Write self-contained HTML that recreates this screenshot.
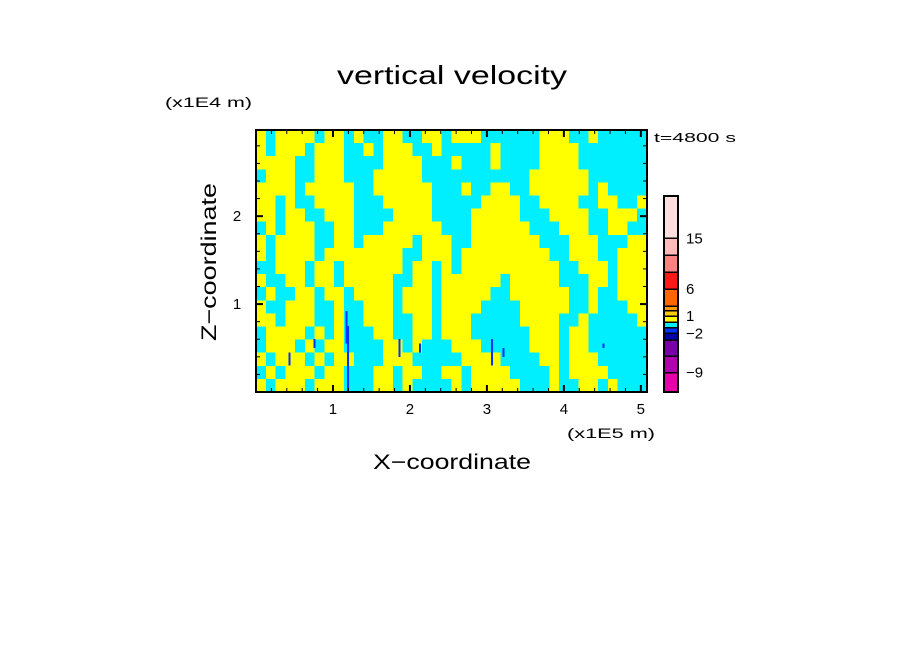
<!DOCTYPE html>
<html><head><meta charset="utf-8"><style>
html,body{margin:0;padding:0;background:#fff;}
svg{display:block;font-family:"Liberation Sans",sans-serif;}
</style></head><body>
<svg id="chart" width="904" height="654" viewBox="0 0 904 654" xmlns="http://www.w3.org/2000/svg">
<rect width="904" height="654" fill="#fff"/>
<g id="field" shape-rendering="crispEdges"></g>
<g id="streaks" shape-rendering="crispEdges"></g>
<rect x="256" y="130" width="391" height="262" fill="none" stroke="#000" stroke-width="2"/>
<g id="ticks" stroke="#000"></g>
<g id="labels" font-size="15" fill="#000"></g>
<g id="cbar" shape-rendering="crispEdges"></g>
<text x="452" y="84" font-size="26" text-anchor="middle" textLength="230" lengthAdjust="spacingAndGlyphs">vertical velocity</text>
<text x="165" y="107" font-size="14" textLength="87" lengthAdjust="spacingAndGlyphs">(x1E4 m)</text>
<text x="567" y="438" font-size="14" textLength="88" lengthAdjust="spacingAndGlyphs">(x1E5 m)</text>
<text x="654" y="142" font-size="13" textLength="82" lengthAdjust="spacingAndGlyphs">t=4800 s</text>
<text x="452" y="469" font-size="21" text-anchor="middle" textLength="158" lengthAdjust="spacingAndGlyphs">X−coordinate</text>
<text transform="translate(216,262) rotate(-90)" font-size="21" text-anchor="middle" textLength="158" lengthAdjust="spacingAndGlyphs">Z−coordinate</text>
</svg>
<script>
const fieldRows = [
"YCYYYYCYYCYCCYYCCYYCYYYCCCCCCYYYCCYCCCCC",
"YCYYYCYYYCCYCYYYCCYCCCCCYCCCCYYYYCCCCCCC",
"YYYYCCYYYCCCCYYYYCCCYCCCYCCCCYYYYCCCCCCC",
"CYYYCCYYYCCCYYYYYCCCCCCCCCCCYYYYYYCCCCCC",
"YYYYCYYYYYCCYYYYYYCCCYCCYYCCYYYYYYCYCCCC",
"YYCYCCYYYYCCCYYYYYCCCCCYYYYCCYYYYCCYYCCY",
"YYCYYCCYYYCCCCYYYYCCCCYYYYYCCCYYYYCCYYYC",
"CYCYYYCCYYCCCYYYYYYCCCYYYYYYCCCYYYCCYYCC",
"YCYYYYCCYYCYYYYYCYYYCCYYYYYYYCCCYYYCCCYY",
"YCYYYYCYYYYYYYYCCYYYCYYYYYYYYYCCYYYCCYYY",
"CCYYYCYYCYYYYYYCYYCYCYYYYYYYYYYCCYYYCYYY",
"YCCYYCYYCYYYYYCCYYCYYYYYYCYYYYYCCCYYCYYY",
"CYCCYYCYYCYYYYCYYYCYYYYYCCYYYYYYCCYCCYYY",
"YCCYYYCCYCCYYYCYYYCYYYYCCCCYYYYYCCYCCCYY",
"YYCYYYCCYCCYYYCCYYCYYYCCCCCYYYYCCYCCCCCY",
"CYYYYCYCYCCCYYCCYYCYYYCCCCCCYYYCYYCCCCCC",
"CYYYCYCYYCCCCYYCYCCCYYYCCCCCYYYCYYCCCCCC",
"YCYYYCYCYYCCCYYYCCCCCYYYYCCCCYYCYYYCCCCC",
"CYCYYYCYYCCCYYCYYCCYYCYYYYCCCCYCYYYYCCCC",
"YCYYYCYYYCCCYYCYCCCCYCYYYYYCCCYCCYYCYCCC"
];
const streakX = [0.42, 1.16, 1.18, 0.75, 1.85, 2.12, 3.05, 3.2, 4.5];
const streakZTop = [0.45, 0.92, 0.75, 0.6, 0.6, 0.55, 0.6, 0.5, 0.55];
const streakZBot = [0.3, 0.55, 0.0, 0.5, 0.4, 0.45, 0.3, 0.4, 0.5];
const cbarLevels = ["-12","-9","-6","-3","-2","-1","0","1","2","3","6","9","12","15","20"];
const cbarColors = ["#e800a8","#b000b0","#7700aa","#0000aa","#0033ff","#00efff","#ffff00","#ffcc00","#ff9900","#ff6600","#ff1a1a","#ff8080","#ffbaba","#ffdede"];
const cbarTickLabels = ["15","6","1","−2","−9"];
const cbarTickLevels = ["15","6","1","-2","-9"];
const xTicks = [1,2,3,4,5];
const yTicks = [1,2];

const X0=256,X1=647,Y0=392,Y1=130, XMAX=5.08, ZMAX=2.98;
const sx=v=>X0+v*(X1-X0)/XMAX;
const sz=v=>Y0-v*(Y0-Y1)/ZMAX;
const NS="http://www.w3.org/2000/svg";
function mk(tag,attrs,parent){const e=document.createElementNS(NS,tag);for(const k in attrs)e.setAttribute(k,attrs[k]);parent.appendChild(e);return e;}

const field=document.getElementById('field');
const nr=fieldRows.length,nc=fieldRows[0].length;
const cw=(X1-X0)/nc,rh=(Y0-Y1)/nr;
fieldRows.forEach((row,r)=>{
  for(let c=0;c<nc;c++){
    const e=mk('rect',{x:X0+c*cw,y:Y1+r*rh,width:cw+0.5,height:rh+0.5,fill:row[c]==='Y'?'#ffff00':'#00efff'},field);
    
    
  }
});
const st=document.getElementById('streaks');
streakX.forEach((x,i)=>{
  const e=mk('rect',{x:sx(x),y:sz(streakZTop[i]),width:2,height:sz(streakZBot[i])-sz(streakZTop[i]),fill:'#0033ff'},st);
  
  
});

const tk=document.getElementById('ticks'), lb=document.getElementById('labels');
for(let v=0.2;v<XMAX;v+=0.2){
  const major=Math.abs(v-Math.round(v))<0.01, L=major?7:4, x=sx(v);
  mk('line',{x1:x,y1:Y1,x2:x,y2:Y1+L,'stroke-width':major?2:1},tk);
  mk('line',{x1:x,y1:Y0,x2:x,y2:Y0-L,'stroke-width':major?2:1},tk);
}
for(let v=0.2;v<ZMAX;v+=0.2){
  const major=Math.abs(v-Math.round(v))<0.01, L=major?7:4, y=sz(v);
  mk('line',{x1:X0,y1:y,x2:X0+L,y2:y,'stroke-width':major?2:1},tk);
  mk('line',{x1:X1,y1:y,x2:X1-L,y2:y,'stroke-width':major?2:1},tk);
}
xTicks.forEach(v=>{const t=mk('text',{x:sx(v),y:414,'text-anchor':'middle'},lb);t.textContent=v;
  });
yTicks.forEach(v=>{const t=mk('text',{x:237,y:sz(v)+5,'text-anchor':'middle'},lb);t.textContent=v;
  });

const cb=document.getElementById('cbar');
const CB0=392,CB1=196,CX=664,CW=14;
const ly=[392,372.7,356,340,333.3,327.7,322.3,316,310.7,306,289,272.3,255,238.3,196];
// map level index -> y using measured boundaries (non-uniform bar)
const ly2=i=>ly[i];
cbarColors.forEach((c,i)=>{
  const e=mk('rect',{x:CX,y:ly2(i+1),width:CW,height:ly2(i)-ly2(i+1),fill:c,stroke:'#000','stroke-width':1.5},cb);
  
  
});
mk('rect',{x:CX,y:CB1,width:CW,height:CB0-CB1,fill:'none',stroke:'#000','stroke-width':2},cb);
cbarTickLabels.forEach((s,i)=>{
  const idx=cbarLevels.indexOf(cbarTickLevels[i]);
  const t=mk('text',{x:686,y:ly2(idx)+5,'font-size':15},cb);t.textContent=s;
  
});
</script>
</body></html>
